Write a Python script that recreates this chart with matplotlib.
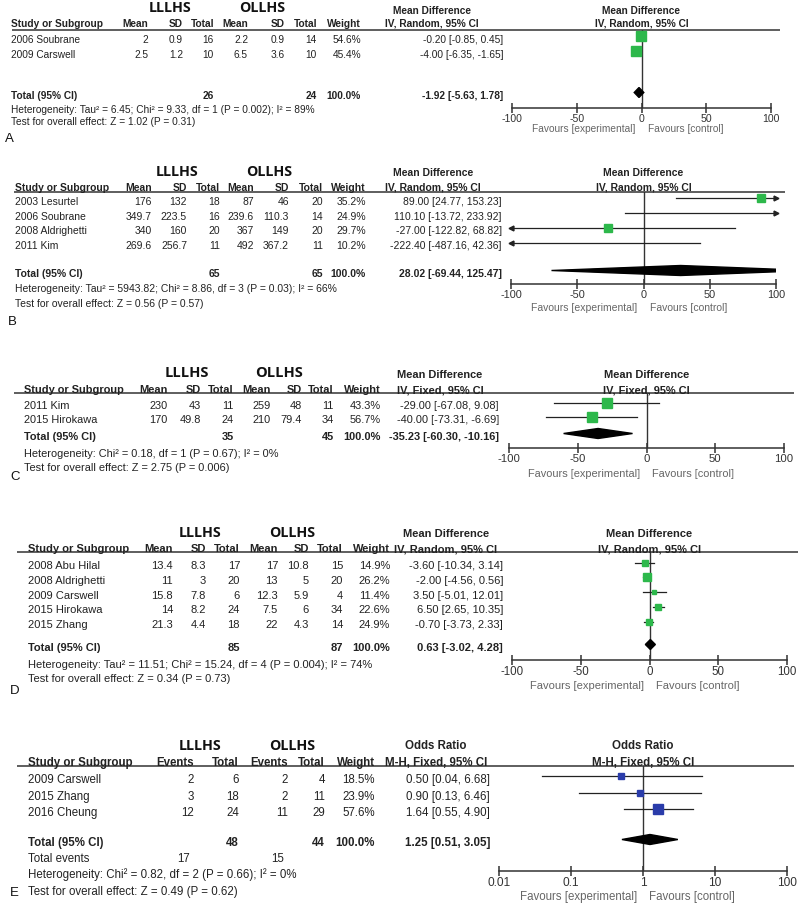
import matplotlib.pyplot as plt
from matplotlib.ticker import NullLocator

plt.rcParams["font.family"] = ["Liberation Sans", "DejaVu Sans"]

W, H = 800, 905
TXT = "#222222"
GREEN = "#2db84b"
BLUE = "#2a3caa"

# ---- A
a_study = ["2006 Soubrane", "2009 Carswell"]
a_mean1 = [2, 2.5]
a_sd1 = [0.9, 1.2]
a_n1 = [16, 10]
a_mean2 = [2.2, 6.5]
a_sd2 = [0.9, 3.6]
a_n2 = [14, 10]
a_weight = [54.6, 45.4]
a_md = [-0.20, -4.00]
a_lo = [-0.85, -6.35]
a_hi = [0.45, -1.65]
a_total = [-1.92, -5.63, 1.78]
a_total_n = [26, 24]
a_het = "Heterogeneity: Tau² = 6.45; Chi² = 9.33, df = 1 (P = 0.002); I² = 89%"
a_test = "Test for overall effect: Z = 1.02 (P = 0.31)"

# ---- B
b_study = ["2003 Lesurtel", "2006 Soubrane", "2008 Aldrighetti", "2011 Kim"]
b_mean1 = [176, 349.7, 340, 269.6]
b_sd1 = [132, 223.5, 160, 256.7]
b_n1 = [18, 16, 20, 11]
b_mean2 = [87, 239.6, 367, 492]
b_sd2 = [46, 110.3, 149, 367.2]
b_n2 = [20, 14, 20, 11]
b_weight = [35.2, 24.9, 29.7, 10.2]
b_md = [89.00, 110.10, -27.00, -222.40]
b_lo = [24.77, -13.72, -122.82, -487.16]
b_hi = [153.23, 233.92, 68.82, 42.36]
b_total = [28.02, -69.44, 125.47]
b_total_n = [65, 65]
b_het = "Heterogeneity: Tau² = 5943.82; Chi² = 8.86, df = 3 (P = 0.03); I² = 66%"
b_test = "Test for overall effect: Z = 0.56 (P = 0.57)"

# ---- C
c_study = ["2011 Kim", "2015 Hirokawa"]
c_mean1 = [230, 170]
c_sd1 = [43, 49.8]
c_n1 = [11, 24]
c_mean2 = [259, 210]
c_sd2 = [48, 79.4]
c_n2 = [11, 34]
c_weight = [43.3, 56.7]
c_md = [-29.00, -40.00]
c_lo = [-67.08, -73.31]
c_hi = [9.08, -6.69]
c_total = [-35.23, -60.30, -10.16]
c_total_n = [35, 45]
c_het = "Heterogeneity: Chi² = 0.18, df = 1 (P = 0.67); I² = 0%"
c_test = "Test for overall effect: Z = 2.75 (P = 0.006)"

# ---- D
d_study = ["2008 Abu Hilal", "2008 Aldrighetti", "2009 Carswell",
           "2015 Hirokawa", "2015 Zhang"]
d_mean1 = [13.4, 11, 15.8, 14, 21.3]
d_sd1 = [8.3, 3, 7.8, 8.2, 4.4]
d_n1 = [17, 20, 6, 24, 18]
d_mean2 = [17, 13, 12.3, 7.5, 22]
d_sd2 = [10.8, 5, 5.9, 6, 4.3]
d_n2 = [15, 20, 4, 34, 14]
d_weight = [14.9, 26.2, 11.4, 22.6, 24.9]
d_md = [-3.60, -2.00, 3.50, 6.50, -0.70]
d_lo = [-10.34, -4.56, -5.01, 2.65, -3.73]
d_hi = [3.14, 0.56, 12.01, 10.35, 2.33]
d_total = [0.63, -3.02, 4.28]
d_total_n = [85, 87]
d_het = "Heterogeneity: Tau² = 11.51; Chi² = 15.24, df = 4 (P = 0.004); I² = 74%"
d_test = "Test for overall effect: Z = 0.34 (P = 0.73)"

# ---- E
e_study = ["2009 Carswell", "2015 Zhang", "2016 Cheung"]
e_ev1 = [2, 3, 12]
e_n1 = [6, 18, 24]
e_ev2 = [2, 2, 11]
e_n2 = [4, 11, 29]
e_weight = [18.5, 23.9, 57.6]
e_or = [0.50, 0.90, 1.64]
e_lo = [0.04, 0.13, 0.55]
e_hi = [6.68, 6.46, 4.90]
e_total = [1.25, 0.51, 3.05]
e_total_n = [48, 44]
e_total_events = [17, 15]
e_het = "Heterogeneity: Chi² = 0.82, df = 2 (P = 0.66); I² = 0%"
e_test = "Test for overall effect: Z = 0.49 (P = 0.62)"

md_cols = ["Mean", "SD", "Total", "Mean", "SD", "Total", "Weight"]
md_ticks = [-100, -50, 0, 50, 100]
or_ticks = [0.01, 0.1, 1, 10, 100]


def fmt(v):
    return f"{v:g}"


# each panel was pasted in at a slightly different scale, hence fs / gfs
panels = [
    dict(label="A", study=a_study,
         cols=[a_mean1, a_sd1, a_n1, a_mean2, a_sd2, a_n2],
         weight=a_weight, est=a_md, lo=a_lo, hi=a_hi, total=a_total,
         total_n=a_total_n, het=a_het, test=a_test,
         col_names=md_cols, measure="Mean Difference",
         method="IV, Random, 95% CI", color=GREEN, log=False,
         fs=7.3, gfs=10.3,
         group_y=8.5, group_x=(170, 262), title_y=11, hdr_y=24, line_y=30,
         line_x=(12, 780), col_x=[148, 183, 214, 248, 285, 317, 361],
         study_x=11, ci_center=432, ci_right=503, row_y0=40, row_step=15,
         total_y=96, het_y=110, test_y=122, label_xy=(5, 139),
         fx=(512, 771), axis_y=108, fav_y=129),
    dict(label="B", study=b_study,
         cols=[b_mean1, b_sd1, b_n1, b_mean2, b_sd2, b_n2],
         weight=b_weight, est=b_md, lo=b_lo, hi=b_hi, total=b_total,
         total_n=b_total_n, het=b_het, test=b_test,
         col_names=md_cols, measure="Mean Difference",
         method="IV, Random, 95% CI", color=GREEN, log=False,
         fs=7.5, gfs=10.3,
         group_y=172, group_x=(177, 269), title_y=173, hdr_y=188, line_y=192,
         line_x=(14, 785), col_x=[152, 187, 220, 254, 289, 323, 366],
         study_x=15, ci_center=433, ci_right=502, row_y0=202, row_step=14.7,
         total_y=274, het_y=289, test_y=304, label_xy=(8, 322),
         fx=(511, 776), axis_y=284, fav_y=308),
    dict(label="C", study=c_study,
         cols=[c_mean1, c_sd1, c_n1, c_mean2, c_sd2, c_n2],
         weight=c_weight, est=c_md, lo=c_lo, hi=c_hi, total=c_total,
         total_n=c_total_n, het=c_het, test=c_test,
         col_names=md_cols, measure="Mean Difference",
         method="IV, Fixed, 95% CI", color=GREEN, log=False,
         fs=7.9, gfs=10.5,
         group_y=373, group_x=(187, 279), title_y=375, hdr_y=390, line_y=393,
         line_x=(14, 794), col_x=[168, 201, 234, 271, 302, 334, 381],
         study_x=24, ci_center=440, ci_right=499, row_y0=406, row_step=14,
         total_y=437, het_y=454, test_y=468, label_xy=(10, 477),
         fx=(509, 784), axis_y=448, fav_y=474),
    dict(label="D", study=d_study,
         cols=[d_mean1, d_sd1, d_n1, d_mean2, d_sd2, d_n2],
         weight=d_weight, est=d_md, lo=d_lo, hi=d_hi, total=d_total,
         total_n=d_total_n, het=d_het, test=d_test,
         col_names=md_cols, measure="Mean Difference",
         method="IV, Random, 95% CI", color=GREEN, log=False,
         fs=8.0, gfs=10.3,
         group_y=533, group_x=(200, 292), title_y=534, hdr_y=549, line_y=552,
         line_x=(17, 798), col_x=[173, 206, 240, 278, 309, 343, 390],
         study_x=28, ci_center=446, ci_right=503, row_y0=566, row_step=14.75,
         total_y=648, het_y=665, test_y=679, label_xy=(10, 691),
         fx=(512, 787), axis_y=660, fav_y=686),
    dict(label="E", study=e_study,
         cols=[e_ev1, e_n1, e_ev2, e_n2],
         weight=e_weight, est=e_or, lo=e_lo, hi=e_hi, total=e_total,
         total_n=e_total_n, het=e_het, test=e_test,
         total_events=e_total_events,
         col_names=["Events", "Total", "Events", "Total", "Weight"],
         measure="Odds Ratio", method="M-H, Fixed, 95% CI", color=BLUE,
         log=True, fs=8.3, gfs=10.3,
         group_y=746, group_x=(200, 292), title_y=746, hdr_y=763, line_y=766,
         line_x=(17, 794), col_x=[194, 239, 288, 325, 375],
         study_x=28, ci_center=436, ci_right=490, row_y0=780, row_step=16.5,
         total_y=843, events_y=859, het_y=875, test_y=892, label_xy=(10, 893),
         fx=(499, 787), axis_y=871, fav_y=897),
]

fig = plt.figure(figsize=(W / 100, H / 100), dpi=100)
bg = fig.add_axes([0, 0, 1, 1])
bg.set_xlim(0, W)
bg.set_ylim(H, 0)
bg.axis("off")


def draw_table(p):
    fs = p["fs"]
    kw = dict(fontsize=fs, color=TXT, va="center")
    for name, gx in zip(["LLLHS", "OLLHS"], p["group_x"]):
        bg.text(gx, p["group_y"], name, ha="center", va="center",
                fontsize=p["gfs"], fontweight="bold", family="Open Sans",
                color="#111111")
    bg.text(p["ci_center"], p["title_y"], p["measure"], ha="center",
            fontweight="bold", **kw)
    bg.text(p["ci_center"], p["hdr_y"], p["method"], ha="center",
            fontweight="bold", **kw)
    bg.text(p["study_x"], p["hdr_y"], "Study or Subgroup", ha="left",
            fontweight="bold", **kw)
    for name, x in zip(p["col_names"], p["col_x"]):
        bg.text(x, p["hdr_y"], name, ha="right", fontweight="bold", **kw)
    bg.plot(p["line_x"], [p["line_y"], p["line_y"]], color="#333333",
            lw=1.1, solid_capstyle="butt")

    ncol = len(p["cols"])
    for i, study in enumerate(p["study"]):
        y = p["row_y0"] + i * p["row_step"]
        bg.text(p["study_x"], y, study, ha="left", **kw)
        for col, x in zip(p["cols"], p["col_x"]):
            bg.text(x, y, fmt(col[i]), ha="right", **kw)
        bg.text(p["col_x"][ncol], y, f"{p['weight'][i]:.1f}%", ha="right", **kw)
        bg.text(p["ci_right"], y,
                f"{p['est'][i]:.2f} [{p['lo'][i]:.2f}, {p['hi'][i]:.2f}]",
                ha="right", **kw)

    ty = p["total_y"]
    bold = dict(kw, fontweight="bold")
    bg.text(p["study_x"], ty, "Total (95% CI)", ha="left", **bold)
    n1_col, n2_col = (2, 5) if ncol == 6 else (1, 3)
    bg.text(p["col_x"][n1_col], ty, str(p["total_n"][0]), ha="right", **bold)
    bg.text(p["col_x"][n2_col], ty, str(p["total_n"][1]), ha="right", **bold)
    bg.text(p["col_x"][ncol], ty, "100.0%", ha="right", **bold)
    t = p["total"]
    bg.text(p["ci_right"], ty, f"{t[0]:.2f} [{t[1]:.2f}, {t[2]:.2f}]",
            ha="right", **bold)
    if "total_events" in p:
        ey = p["events_y"]
        bg.text(p["study_x"], ey, "Total events", ha="left", **kw)
        bg.text(p["col_x"][0] - 4, ey, str(p["total_events"][0]), ha="right", **kw)
        bg.text(p["col_x"][2] - 4, ey, str(p["total_events"][1]), ha="right", **kw)
    bg.text(p["study_x"], p["het_y"], p["het"], ha="left", **kw)
    bg.text(p["study_x"], p["test_y"], p["test"], ha="left", **kw)
    bg.text(*p["label_xy"], p["label"], ha="left", va="center", fontsize=9.5,
            color="#111111")


def draw_forest(p):
    fs = p["fs"]
    x0, x1 = p["fx"]
    top, bot = p["line_y"], p["axis_y"]
    ax = fig.add_axes([x0 / W, 1 - bot / H, (x1 - x0) / W, (bot - top) / H])
    ax.patch.set_alpha(0)
    ax.set_ylim(bot, top)
    if p["log"]:
        ax.set_xscale("log")
        xmin, xmax, null = 0.01, 100, 1
        ticks, labels = or_ticks, ["0.01", "0.1", "1", "10", "100"]
    else:
        xmin, xmax, null = -100, 100, 0
        ticks, labels = md_ticks, [str(v) for v in md_ticks]
    ax.set_xlim(xmin, xmax)
    for s in ["top", "left", "right"]:
        ax.spines[s].set_visible(False)
    ax.spines["bottom"].set_color("#333333")
    ax.spines["bottom"].set_linewidth(1.1)
    ax.set_yticks([])
    ax.set_xticks(ticks)
    ax.set_xticklabels(labels)
    ax.xaxis.set_minor_locator(NullLocator())
    ax.tick_params(axis="x", direction="inout", length=7, width=1.1,
                   color="#333333", labelsize=fs + 0.3, labelcolor="#333333",
                   pad=1)
    ax.axvline(null, color="#333333", lw=1.0, zorder=1)

    dy = -3.5
    for i in range(len(p["study"])):
        y = p["row_y0"] + i * p["row_step"] + dy
        lo, hi, est = p["lo"][i], p["hi"][i], p["est"][i]
        ax.plot([max(lo, xmin), min(hi, xmax)], [y, y], color="#222222",
                lw=0.9, zorder=2, clip_on=False)
        if lo < xmin:
            ax.plot(xmin, y, marker="<", ms=3.5, color="#222222", clip_on=False)
        if hi > xmax:
            ax.plot(xmax, y, marker=">", ms=3.5, color="#222222", clip_on=False)
        if xmin <= est <= xmax:
            size = 1.4 * p["weight"][i] ** 0.5 * 0.72
            ax.plot(est, y, marker="s", ms=size, color=p["color"],
                    mec=p["color"], zorder=3, clip_on=False)

    t = p["total"]
    y = p["total_y"] + dy
    h = 5
    ax.fill([t[1], t[0], t[2], t[0]], [y, y - h, y, y + h], color="black",
            zorder=3)

    tkw = dict(xycoords=ax.get_xaxis_transform(), textcoords="offset pixels",
               va="center", fontsize=fs)
    ax.annotate(p["measure"], xy=(null, 1), xytext=(0, top - p["title_y"]),
                ha="center", fontweight="bold", color=TXT, **tkw)
    ax.annotate(p["method"], xy=(null, 1), xytext=(0, top - p["hdr_y"]),
                ha="center", fontweight="bold", color=TXT, **tkw)
    ax.annotate("Favours [experimental]", xy=(null, 0),
                xytext=(-6, bot - p["fav_y"]), ha="right", color="#666666",
                **tkw)
    ax.annotate("Favours [control]", xy=(null, 0),
                xytext=(6, bot - p["fav_y"]), ha="left", color="#666666",
                **tkw)


for p in panels:
    draw_table(p)
    draw_forest(p)

fig.savefig("out.png", dpi=100)
